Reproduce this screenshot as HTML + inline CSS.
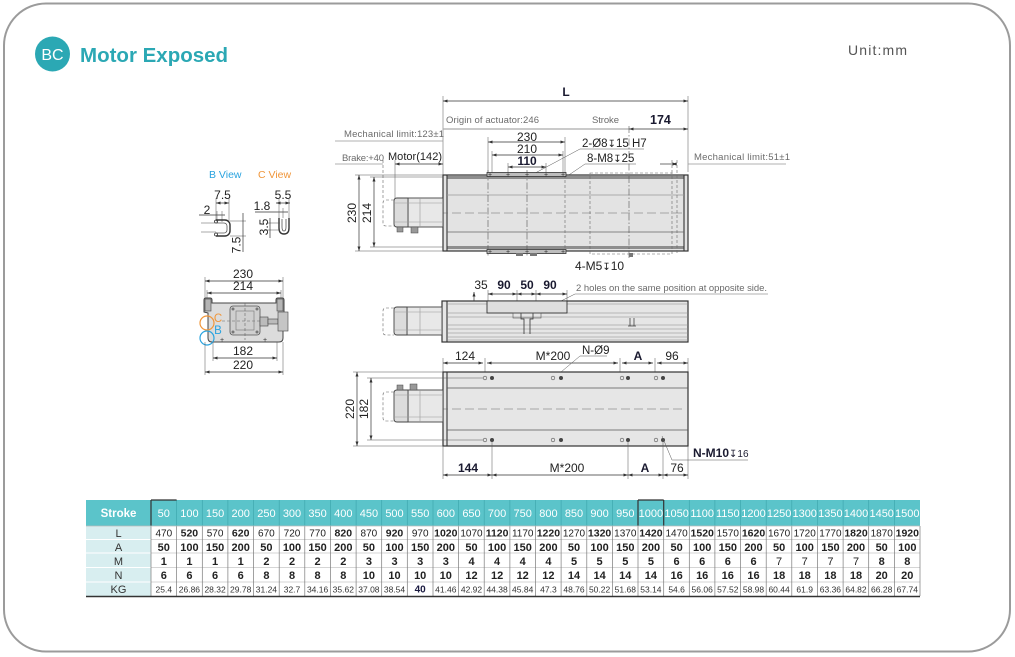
<!DOCTYPE html>
<html><head><meta charset="utf-8"><style>
html,body{margin:0;padding:0;background:#fff;width:1015px;height:657px;overflow:hidden}
svg{display:block;font-family:"Liberation Sans","DejaVu Sans",sans-serif}
.d{stroke:#333;stroke-width:0.7;fill:none}
.m{marker-start:url(#a);marker-end:url(#a)}
.e{stroke:#555;stroke-width:0.5;fill:none}
.dd{stroke:#555;stroke-width:0.6;stroke-dasharray:7 2 1.5 2;fill:none}
.ds{stroke:#666;stroke-width:0.6;stroke-dasharray:3 2;fill:none}
.t{font-size:12px;fill:#222}
.tb{font-size:12px;fill:#1a1a30;font-weight:bold}
.gl{font-size:9.5px;fill:#6b6b6b}
.c{text-anchor:middle}
.o{stroke:#333;stroke-width:1.1}
</style></head><body>
<svg width="1015" height="657" viewBox="0 0 1015 657">
<defs><marker id="a" viewBox="0 0 6 4" refX="6" refY="2" markerWidth="5" markerHeight="3" orient="auto-start-reverse" markerUnits="userSpaceOnUse"><path d="M0,0L6,2L0,4z" fill="#333"/></marker></defs>

<!-- frame -->
<rect x="4" y="3.5" width="1006" height="648" rx="42" fill="none" stroke="#9b9b9b" stroke-width="2"/>

<!-- header -->
<circle cx="52.5" cy="54" r="17.5" fill="#2ba8b4"/>
<text x="52.5" y="60" class="c" font-size="16" fill="#fff">BC</text>
<text x="80" y="62" font-size="20.5" font-weight="bold" fill="#2ba8b4">Motor Exposed</text>
<text x="848" y="55" font-size="14" fill="#555" textLength="59">Unit:mm</text>

<!-- B / C views -->
<text x="209" y="178" font-size="10.5" fill="#2aa3df">B View</text>
<text x="258" y="178" font-size="10.5" fill="#f0963a">C View</text>
<!-- B view -->
<line class="e" x1="216" y1="198" x2="216" y2="221"/>
<line class="e" x1="229" y1="198" x2="229" y2="221"/>
<line class="d m" x1="216" y1="203" x2="229" y2="203"/>
<text x="222.5" y="199" class="t c" font-size="11.5">7.5</text>
<text x="207" y="214" class="t c" font-size="11.5">2</text>
<line class="d" x1="199" y1="215" x2="225" y2="215"/>
<line class="e" x1="217" y1="211" x2="217" y2="222"/>
<line class="e" x1="222" y1="211" x2="222" y2="222"/>
<line class="e" x1="201" y1="223" x2="216" y2="223"/>
<line class="e" x1="201" y1="232" x2="216" y2="232"/>
<path d="M216,220H225A5,5 0 0 1 230,225V231A5,5 0 0 1 225,236H216" fill="none" stroke="#333" stroke-width="1.4"/>
<path d="M216,223H224A3,3 0 0 1 227,226V230A3,3 0 0 1 224,233H216" fill="none" stroke="#555" stroke-width="0.8"/>
<circle cx="216" cy="221.5" r="1.5" fill="none" stroke="#333" stroke-width="0.8"/>
<circle cx="216" cy="234.5" r="1.5" fill="none" stroke="#333" stroke-width="0.8"/>
<line class="e" x1="230" y1="221" x2="246" y2="221"/>
<line class="e" x1="230" y1="236" x2="246" y2="236"/>
<line class="d" x1="243" y1="213" x2="243" y2="252"/>
<text x="236.5" y="249" class="t c" font-size="11.5" transform="rotate(-90 236.5 245)">7.5</text>
<!-- C view -->
<text x="283" y="199" class="t c" font-size="11.5">5.5</text>
<line class="d m" x1="276" y1="203" x2="290" y2="203"/>
<text x="262" y="210" class="t c" font-size="11.5">1.8</text>
<line class="d" x1="255" y1="212" x2="288" y2="212"/>
<line class="e" x1="279" y1="199" x2="279" y2="218"/>
<line class="e" x1="283" y1="208" x2="283" y2="218"/>
<line class="e" x1="289" y1="199" x2="289" y2="218"/>
<path d="M279,218V228Q279,234 284,234Q289,234 289,228V218" fill="none" stroke="#333" stroke-width="1.4"/>
<path d="M282,219V227Q282,231 284,231Q286,231 286,227V219" fill="none" stroke="#555" stroke-width="0.8"/>
<line class="e" x1="267" y1="223" x2="280" y2="223"/>
<line class="e" x1="267" y1="230" x2="280" y2="230"/>
<line class="d" x1="270" y1="218" x2="270" y2="238"/>
<text x="264" y="231" class="t c" font-size="11" transform="rotate(-90 264 227)">3.5</text>

<!-- End view -->
<line class="e" x1="205" y1="277" x2="205" y2="300"/>
<line class="e" x1="283" y1="277" x2="283" y2="300"/>
<line class="e" x1="207" y1="290" x2="207" y2="303"/>
<line class="e" x1="281" y1="290" x2="281" y2="303"/>
<line class="d m" x1="205" y1="281" x2="283" y2="281"/>
<text x="243" y="278" class="t c">230</text>
<line class="d m" x1="207" y1="293" x2="281" y2="293"/>
<text x="243" y="290" class="t c">214</text>
<path d="M204,300Q204,298 206,298H210Q212,298 212,300V303H276V300Q276,298 278,298H282Q284,298 284,300V312L283,313V338Q283,342 279,342H212Q208,342 208,338V313L204,312Z" fill="#dcdcdc" stroke="#444" stroke-width="1"/>
<rect x="205" y="299" width="6" height="12" fill="#b5b5b5" stroke="#444" stroke-width="0.6"/>
<rect x="277" y="299" width="6" height="12" fill="#b5b5b5" stroke="#444" stroke-width="0.6"/>
<rect x="230" y="306" width="30" height="29" rx="3" fill="#cfcfcf" stroke="#555" stroke-width="0.8"/>
<rect x="236" y="311" width="18" height="19" fill="none" stroke="#777" stroke-width="0.6"/>
<circle cx="233" cy="309" r="1.5" fill="#777"/><circle cx="257" cy="309" r="1.5" fill="#777"/>
<circle cx="233" cy="332" r="1.5" fill="#777"/><circle cx="257" cy="332" r="1.5" fill="#777"/>
<line class="ds" x1="222" y1="321" x2="262" y2="321"/>
<line class="ds" x1="245" y1="303" x2="245" y2="340"/>
<rect x="260" y="317" width="8" height="9" fill="#bbb" stroke="#444" stroke-width="0.6"/>
<rect x="268" y="319" width="10" height="5" fill="#bbb" stroke="#444" stroke-width="0.6"/>
<rect x="278" y="312" width="10" height="19" fill="#c5c5c5" stroke="#444" stroke-width="0.6"/>
<text x="222" y="342" font-size="7" fill="#333" class="c">+</text>
<text x="265" y="342" font-size="7" fill="#333" class="c">+</text>
<circle cx="207" cy="323" r="7" fill="none" stroke="#f0963a" stroke-width="1.2"/>
<text x="218" y="322" class="c" font-size="11.5" fill="#f0963a">C</text>
<circle cx="207" cy="338" r="7" fill="none" stroke="#2aa3df" stroke-width="1.2"/>
<text x="218" y="334" class="c" font-size="11.5" fill="#2aa3df">B</text>
<line class="e" x1="213" y1="342" x2="213" y2="361"/>
<line class="e" x1="277" y1="342" x2="277" y2="361"/>
<line class="e" x1="205" y1="342" x2="205" y2="375"/>
<line class="e" x1="283" y1="342" x2="283" y2="375"/>
<line class="d m" x1="213" y1="358" x2="277" y2="358"/>
<text x="243" y="355" class="t c">182</text>
<line class="d m" x1="205" y1="372" x2="283" y2="372"/>
<text x="243" y="369" class="t c">220</text>

<!-- ============ TOP VIEW ============ -->
<line class="e" x1="443" y1="96" x2="443" y2="175"/>
<line class="e" x1="688" y1="96" x2="688" y2="172"/>
<line class="d m" x1="443" y1="101" x2="688" y2="101"/>
<text x="566" y="96" class="tb c">L</text>
<line x1="443" y1="129" x2="629" y2="129" stroke="#aaa" stroke-width="1.3"/>
<line class="d m" x1="629" y1="129" x2="688" y2="129"/>
<text class="gl" x="446" y="123" textLength="93">Origin of actuator:246</text>
<text class="gl" x="592" y="123" textLength="27">Stroke</text>
<text x="650" y="124" font-size="12.5" font-weight="bold" fill="#1a1a30">174</text>
<text class="gl" x="344" y="137" textLength="100">Mechanical limit:123±1</text>
<line x1="335" y1="141" x2="443" y2="141" stroke="#999" stroke-width="0.8"/>
<text class="gl" x="342" y="161" textLength="42">Brake:+40</text>
<line x1="335" y1="164" x2="383" y2="164" stroke="#999" stroke-width="0.8"/>
<text x="388" y="160" font-size="11" fill="#222" textLength="54">Motor(142)</text>
<line class="d m" x1="395" y1="164" x2="443" y2="164"/>
<line class="ds" x1="383" y1="160" x2="383" y2="198"/>
<line class="e" x1="395" y1="160" x2="395" y2="198"/>
<text class="gl" x="694" y="160" textLength="96">Mechanical limit:51±1</text>
<line x1="688" y1="164" x2="786" y2="164" stroke="#999" stroke-width="0.8"/>
<line class="d m" x1="672" y1="164" x2="677" y2="164"/>
<line class="d" x1="660" y1="164" x2="672" y2="164"/>

<!-- 230/210/110 -->
<line class="d m" x1="488" y1="142" x2="565" y2="142"/>
<text x="527" y="141" class="t c">230</text>
<line class="e" x1="488" y1="137" x2="488" y2="175"/>
<line class="e" x1="565" y1="137" x2="565" y2="175"/>
<line class="d m" x1="492" y1="155" x2="563" y2="155"/>
<text x="527" y="153" class="t c">210</text>
<line class="e" x1="492" y1="151" x2="492" y2="175"/>
<line class="e" x1="563" y1="151" x2="563" y2="175"/>
<line class="d m" x1="508" y1="167" x2="546" y2="167"/>
<text x="527" y="165" class="tb c">110</text>
<line class="e" x1="508" y1="163" x2="508" y2="175"/>
<line class="e" x1="546" y1="163" x2="546" y2="175"/>
<text x="582" y="147" font-size="11.5" fill="#222">2-Ø8<tspan font-size="10">↧</tspan>15 H7</text>
<line class="e" x1="580" y1="149" x2="644" y2="149"/>
<line class="e" x1="580" y1="149" x2="524" y2="179"/>
<text x="587" y="162" font-size="11.5" fill="#222">8-M8<tspan font-size="10">↧</tspan>25</text>
<line class="e" x1="585" y1="164" x2="636" y2="164"/>
<line class="e" x1="585" y1="164" x2="560" y2="181"/>

<!-- body -->
<rect x="443" y="175" width="245" height="76" fill="#e3e3e3" stroke="#333" stroke-width="1.2"/>
<rect x="447" y="176" width="237" height="3" fill="#8e8e8e"/>
<rect x="447" y="246" width="237" height="3" fill="#8e8e8e"/>
<line class="o" x1="447" y1="175" x2="447" y2="251"/>
<line class="o" x1="684" y1="175" x2="684" y2="251"/>
<line x1="447" y1="195" x2="684" y2="195" stroke="#999" stroke-width="0.8"/>
<line x1="447" y1="232" x2="684" y2="232" stroke="#666" stroke-width="0.8"/>
<line class="ds" x1="400" y1="213" x2="684" y2="213" style="stroke-dasharray:9 4"/>
<line class="dd" x1="488" y1="170" x2="488" y2="256"/>
<line class="dd" x1="527" y1="170" x2="527" y2="256"/>
<line class="ds" x1="565" y1="175" x2="565" y2="254"/>
<rect x="590" y="173" width="82" height="81" class="ds"/>
<line class="dd" x1="629" y1="126" x2="629" y2="258"/>
<line class="ds" x1="677" y1="160" x2="677" y2="254"/>
<line class="ds" x1="672" y1="160" x2="672" y2="173"/>
<!-- carriage -->
<rect x="487" y="172.5" width="79" height="4" fill="#bdbdbd" stroke="#333" stroke-width="0.8"/>
<rect x="487" y="249.5" width="79" height="4" fill="#bdbdbd" stroke="#333" stroke-width="0.8"/>
<g font-size="7" fill="#333" class="c">
<text x="490" y="177">+</text><text x="508" y="177">+</text><text x="527" y="177">+</text><text x="546" y="177">+</text><text x="563" y="177">+</text>
<text x="490" y="254">+</text><text x="508" y="254">+</text><text x="527" y="254">+</text><text x="546" y="254">+</text><text x="563" y="254">+</text>
</g>
<rect x="516" y="253" width="7" height="3" fill="#777"/><rect x="530" y="253" width="7" height="3" fill="#777"/>
<rect x="629" y="253" width="4" height="4" fill="#777"/>
<!-- motor -->
<rect x="408" y="198" width="35" height="29" fill="#e8e8e8" stroke="#444" stroke-width="0.9"/>
<path d="M408,198H397Q394,198 394,201V224Q394,227 397,227H408Z" fill="#dcdcdc" stroke="#444" stroke-width="0.9"/>
<line x1="394" y1="203" x2="443" y2="203" stroke="#999" stroke-width="0.6"/>
<line x1="394" y1="222" x2="443" y2="222" stroke="#999" stroke-width="0.6"/>
<line x1="420" y1="198" x2="420" y2="227" stroke="#999" stroke-width="0.6"/>
<path d="M394,200H386Q383,200 383,203V223Q383,226 386,226H394" class="ds"/>
<rect x="397" y="227" width="6" height="5" fill="#999" stroke="#444" stroke-width="0.5"/>
<rect x="411" y="227" width="7" height="6" fill="#999" stroke="#444" stroke-width="0.5"/>
<!-- vertical dims -->
<line class="e" x1="355" y1="175" x2="443" y2="175"/>
<line class="e" x1="355" y1="251" x2="443" y2="251"/>
<line class="e" x1="370" y1="177" x2="443" y2="177"/>
<line class="e" x1="370" y1="247" x2="443" y2="247"/>
<line class="d m" x1="359" y1="175" x2="359" y2="251"/>
<line class="d m" x1="374" y1="177" x2="374" y2="247"/>
<text x="352" y="217" class="t c" transform="rotate(-90 352 213)">230</text>
<text x="367" y="217" class="t c" transform="rotate(-90 367 213)">214</text>
<text x="575" y="270" font-size="12" fill="#222">4-M5<tspan font-size="10">↧</tspan>10</text>

<!-- ============ MIDDLE VIEW ============ -->
<line class="e" x1="488" y1="290" x2="488" y2="301"/>
<line class="e" x1="517" y1="290" x2="517" y2="318"/>
<line class="e" x1="536" y1="290" x2="536" y2="318"/>
<line class="e" x1="567" y1="290" x2="567" y2="301"/>
<line class="d m" x1="488" y1="294" x2="517" y2="294"/>
<line class="d m" x1="517" y1="294" x2="536" y2="294"/>
<line class="d m" x1="536" y1="294" x2="567" y2="294"/>
<line class="d m" x1="474" y1="292" x2="474" y2="318"/>
<text x="481" y="289" class="t c">35</text>
<text x="504" y="289" class="tb c">90</text>
<text x="527" y="289" class="tb c">50</text>
<text x="550" y="289" class="tb c">90</text>
<text class="gl" x="576" y="291" textLength="191">2 holes on the same position at opposite side.</text>
<line x1="575" y1="294" x2="768" y2="294" stroke="#999" stroke-width="0.8"/>
<line class="e" x1="575" y1="294" x2="531" y2="316"/>
<rect x="442" y="301" width="246" height="41" fill="#e6e6e6" stroke="#333" stroke-width="1.2"/>
<line class="o" x1="447" y1="301" x2="447" y2="342"/>
<g stroke="#888" stroke-width="0.6">
<line x1="447" y1="304" x2="688" y2="304"/><line x1="447" y1="313" x2="688" y2="313"/>
<line x1="447" y1="317" x2="688" y2="317"/><line x1="447" y1="325" x2="688" y2="325"/>
<line x1="447" y1="329" x2="688" y2="329"/><line x1="447" y1="333" x2="688" y2="333"/>
<line x1="447" y1="337" x2="688" y2="337"/><line x1="447" y1="340" x2="688" y2="340"/>
</g>
<line class="ds" x1="400" y1="321" x2="440" y2="321" style="stroke-dasharray:9 4"/>
<rect x="487" y="301" width="80" height="12" fill="#dedede" stroke="#333" stroke-width="0.9"/>
<path d="M521,313V319H524V334M533,313V319H530V334" fill="none" stroke="#333" stroke-width="0.8"/>
<rect x="513" y="313" width="28" height="5" fill="none" stroke="#555" stroke-width="0.6"/>
<path d="M630,318V326M634,318V326M628,326H636" fill="none" stroke="#444" stroke-width="0.8"/>
<rect x="407" y="307" width="35" height="28" fill="#e8e8e8" stroke="#444" stroke-width="0.9"/>
<path d="M407,307H397Q394,307 394,310V332Q394,335 397,335H407Z" fill="#dcdcdc" stroke="#444" stroke-width="0.9"/>
<line x1="394" y1="312" x2="442" y2="312" stroke="#999" stroke-width="0.6"/>
<line x1="394" y1="330" x2="442" y2="330" stroke="#999" stroke-width="0.6"/>
<line x1="420" y1="307" x2="420" y2="335" stroke="#999" stroke-width="0.6"/>
<path d="M394,308H386Q383,308 383,311V332Q383,335 386,335H394" class="ds"/>

<!-- ============ BOTTOM VIEW ============ -->
<line class="e" x1="443" y1="358" x2="443" y2="372"/>
<line class="e" x1="485" y1="358" x2="485" y2="378"/>
<line class="e" x1="620" y1="358" x2="620" y2="378"/>
<line class="e" x1="655" y1="358" x2="655" y2="378"/>
<line class="e" x1="688" y1="358" x2="688" y2="372"/>
<line class="d m" x1="443" y1="363" x2="483" y2="363"/>
<line class="d m" x1="487" y1="363" x2="618" y2="363"/>
<line class="d m" x1="622" y1="363" x2="653" y2="363"/>
<line class="d m" x1="657" y1="363" x2="688" y2="363"/>
<text x="465" y="360" class="t c">124</text>
<text x="553" y="360" class="t c">M*200</text>
<text x="638" y="360" class="tb c">A</text>
<text x="672" y="360" class="t c">96</text>
<text x="582" y="354" font-size="11.5" fill="#222">N-Ø9</text>
<line class="e" x1="580" y1="356" x2="607" y2="356"/>
<line class="e" x1="580" y1="356" x2="548" y2="383"/>
<rect x="443" y="372" width="245" height="74" fill="#e6e6e6" stroke="#333" stroke-width="1.2"/>
<line class="o" x1="447" y1="372" x2="447" y2="446"/>
<line x1="447" y1="388" x2="688" y2="388" stroke="#555" stroke-width="0.8"/>
<line x1="447" y1="430" x2="688" y2="430" stroke="#555" stroke-width="0.8"/>
<line class="ds" x1="400" y1="409" x2="684" y2="409" style="stroke-dasharray:9 4"/>
<g fill="none" stroke="#555" stroke-width="0.6">
<circle cx="485" cy="378" r="1.8"/><circle cx="553" cy="378" r="1.8"/><circle cx="622" cy="378" r="1.8"/><circle cx="656" cy="378" r="1.8"/>
<circle cx="485" cy="440" r="1.8"/><circle cx="553" cy="440" r="1.8"/><circle cx="622" cy="440" r="1.8"/><circle cx="656" cy="440" r="1.8"/>
</g>
<g fill="#444">
<circle cx="492" cy="378" r="2"/><circle cx="561" cy="378" r="2"/><circle cx="628" cy="378" r="2"/><circle cx="663" cy="378" r="2"/>
<circle cx="492" cy="440" r="2"/><circle cx="561" cy="440" r="2"/><circle cx="628" cy="440" r="2"/><circle cx="663" cy="440" r="2"/>
</g>
<rect x="408" y="390" width="35" height="32" fill="#e8e8e8" stroke="#444" stroke-width="0.9"/>
<path d="M408,390H397Q394,390 394,393V419Q394,422 397,422H408Z" fill="#dcdcdc" stroke="#444" stroke-width="0.9"/>
<line x1="394" y1="395" x2="443" y2="395" stroke="#999" stroke-width="0.6"/>
<line x1="394" y1="417" x2="443" y2="417" stroke="#999" stroke-width="0.6"/>
<line x1="420" y1="390" x2="420" y2="422" stroke="#999" stroke-width="0.6"/>
<path d="M394,392H386Q383,392 383,395V418Q383,421 386,421H394" class="ds"/>
<rect x="397" y="385" width="6" height="5" fill="#999" stroke="#444" stroke-width="0.5"/>
<rect x="410" y="384" width="7" height="6" fill="#999" stroke="#444" stroke-width="0.5"/>
<line class="e" x1="353" y1="372" x2="443" y2="372"/>
<line class="e" x1="353" y1="446" x2="443" y2="446"/>
<line class="e" x1="367" y1="378" x2="483" y2="378"/>
<line class="e" x1="367" y1="440" x2="483" y2="440"/>
<line class="d m" x1="357" y1="372" x2="357" y2="446"/>
<line class="d m" x1="371" y1="378" x2="371" y2="440"/>
<text x="350" y="413" class="t c" transform="rotate(-90 350 409)">220</text>
<text x="364" y="413" class="t c" transform="rotate(-90 364 409)">182</text>
<line class="e" x1="443" y1="446" x2="443" y2="479"/>
<line class="e" x1="492" y1="440" x2="492" y2="479"/>
<line class="e" x1="628" y1="440" x2="628" y2="479"/>
<line class="e" x1="663" y1="440" x2="663" y2="479"/>
<line class="e" x1="688" y1="446" x2="688" y2="479"/>
<line class="d m" x1="443" y1="475" x2="492" y2="475"/>
<line class="d m" x1="492" y1="475" x2="628" y2="475"/>
<line class="d m" x1="628" y1="475" x2="663" y2="475"/>
<line class="d m" x1="663" y1="475" x2="688" y2="475"/>
<text x="468" y="472" class="tb c">144</text>
<text x="567" y="472" class="t c">M*200</text>
<text x="645" y="472" class="tb c">A</text>
<text x="677" y="472" class="t c">76</text>
<text x="693" y="457" font-size="12" fill="#1a1a30" font-weight="bold">N-M10<tspan font-size="10" font-weight="normal">↧16</tspan></text>
<line class="e" x1="672" y1="460" x2="748" y2="460"/>
<line class="e" x1="672" y1="460" x2="662" y2="436"/>

<!-- ============ TABLE ============ -->
<rect x="86" y="500" width="834" height="26" fill="#5bc4ca"/>
<rect x="86" y="526" width="65" height="70" fill="#d8eef0"/>
<path d="M176.6,500V526M202.3,500V526M227.9,500V526M253.5,500V526M279.2,500V526M304.8,500V526M330.4,500V526M356.1,500V526M381.7,500V526M407.3,500V526M433,500V526M458.6,500V526M484.2,500V526M509.9,500V526M535.5,500V526M561.1,500V526M586.8,500V526M612.4,500V526M638,500V526M663.7,500V526M689.3,500V526M714.9,500V526M740.6,500V526M766.2,500V526M791.8,500V526M817.5,500V526M843.1,500V526M868.7,500V526M894.4,500V526" stroke="#3fa7ae" stroke-width="0.7"/>
<path d="M151,500V526" stroke="#333" stroke-width="1.2"/>
<path d="M151,500H176.6M638,500H663.7M638,500V526M663.7,500V526" stroke="#333" stroke-width="1.2" fill="none"/>
<path d="M151,539.5H920M151,553H920M151,567.5H920M151,582H920" stroke="#c8c8c8" stroke-width="0.8"/>
<path d="M86,539.5H151M86,553H151M86,567.5H151M86,582H151" stroke="#fff" stroke-width="1"/>
<path d="M151,526V596M176.6,526V596M202.3,526V596M227.9,526V596M253.5,526V596M279.2,526V596M304.8,526V596M330.4,526V596M356.1,526V596M381.7,526V596M407.3,526V596M433,526V596M458.6,526V596M484.2,526V596M509.9,526V596M535.5,526V596M561.1,526V596M586.8,526V596M612.4,526V596M638,526V596M663.7,526V596M689.3,526V596M714.9,526V596M740.6,526V596M766.2,526V596M791.8,526V596M817.5,526V596M843.1,526V596M868.7,526V596M894.4,526V596M920,526V596" stroke="#7a7a7a" stroke-width="0.7"/>
<line x1="86" y1="526" x2="920" y2="526" stroke="#bbb" stroke-width="0.8"/>
<line x1="86" y1="596.5" x2="920" y2="596.5" stroke="#333" stroke-width="1.5"/>

<text x="118.5" y="517" class="c" font-size="11.5" font-weight="bold" fill="#fff">Stroke</text>
<text y="517" class="c" font-size="11" fill="#fff"><tspan x="163.8">50</tspan><tspan x="189.4">100</tspan><tspan x="215.1">150</tspan><tspan x="240.7">200</tspan><tspan x="266.4">250</tspan><tspan x="292">300</tspan><tspan x="317.6">350</tspan><tspan x="343.3">400</tspan><tspan x="368.9">450</tspan><tspan x="394.5">500</tspan><tspan x="420.2">550</tspan><tspan x="445.8">600</tspan><tspan x="471.5">650</tspan><tspan x="497.1">700</tspan><tspan x="522.7">750</tspan><tspan x="548.4">800</tspan><tspan x="574">850</tspan><tspan x="599.6">900</tspan><tspan x="625.3">950</tspan><tspan x="650.9">1000</tspan><tspan x="676.6">1050</tspan><tspan x="702.2">1100</tspan><tspan x="727.8">1150</tspan><tspan x="753.5">1200</tspan><tspan x="779.1">1250</tspan><tspan x="804.7">1300</tspan><tspan x="830.4">1350</tspan><tspan x="856">1400</tspan><tspan x="881.7">1450</tspan><tspan x="907.3">1500</tspan></text>

<g class="c" font-size="11" fill="#333">
<text x="118.5" y="537">L</text><text x="118.5" y="551">A</text><text x="118.5" y="565">M</text><text x="118.5" y="579">N</text><text x="118.5" y="593">KG</text>
</g>

<text y="536.5" class="c" font-size="10" fill="#222"><tspan x="163.8">470</tspan><tspan x="189.4" font-weight="bold" font-size="10.5">520</tspan><tspan x="215.1">570</tspan><tspan x="240.7" font-weight="bold" font-size="10.5">620</tspan><tspan x="266.4">670</tspan><tspan x="292">720</tspan><tspan x="317.6">770</tspan><tspan x="343.3" font-weight="bold" font-size="10.5">820</tspan><tspan x="368.9">870</tspan><tspan x="394.5" font-weight="bold" font-size="10.5">920</tspan><tspan x="420.2">970</tspan><tspan x="445.8" font-weight="bold" font-size="10.5">1020</tspan><tspan x="471.5">1070</tspan><tspan x="497.1" font-weight="bold" font-size="10.5">1120</tspan><tspan x="522.7">1170</tspan><tspan x="548.4" font-weight="bold" font-size="10.5">1220</tspan><tspan x="574">1270</tspan><tspan x="599.6" font-weight="bold" font-size="10.5">1320</tspan><tspan x="625.3">1370</tspan><tspan x="650.9" font-weight="bold" font-size="10.5">1420</tspan><tspan x="676.6">1470</tspan><tspan x="702.2" font-weight="bold" font-size="10.5">1520</tspan><tspan x="727.8">1570</tspan><tspan x="753.5" font-weight="bold" font-size="10.5">1620</tspan><tspan x="779.1">1670</tspan><tspan x="804.7">1720</tspan><tspan x="830.4">1770</tspan><tspan x="856" font-weight="bold" font-size="10.5">1820</tspan><tspan x="881.7">1870</tspan><tspan x="907.3" font-weight="bold" font-size="10.5">1920</tspan></text>

<text y="551" class="c" font-size="11" font-weight="bold" fill="#222"><tspan x="163.8">50</tspan><tspan x="189.4">100</tspan><tspan x="215.1">150</tspan><tspan x="240.7">200</tspan><tspan x="266.4">50</tspan><tspan x="292">100</tspan><tspan x="317.6">150</tspan><tspan x="343.3">200</tspan><tspan x="368.9">50</tspan><tspan x="394.5">100</tspan><tspan x="420.2">150</tspan><tspan x="445.8">200</tspan><tspan x="471.5">50</tspan><tspan x="497.1">100</tspan><tspan x="522.7">150</tspan><tspan x="548.4">200</tspan><tspan x="574">50</tspan><tspan x="599.6">100</tspan><tspan x="625.3">150</tspan><tspan x="650.9">200</tspan><tspan x="676.6">50</tspan><tspan x="702.2">100</tspan><tspan x="727.8">150</tspan><tspan x="753.5">200</tspan><tspan x="779.1">50</tspan><tspan x="804.7">100</tspan><tspan x="830.4">150</tspan><tspan x="856">200</tspan><tspan x="881.7">50</tspan><tspan x="907.3">100</tspan></text>

<text y="565" class="c" font-size="11" font-weight="bold" fill="#222"><tspan x="163.8">1</tspan><tspan x="189.4">1</tspan><tspan x="215.1">1</tspan><tspan x="240.7">1</tspan><tspan x="266.4">2</tspan><tspan x="292">2</tspan><tspan x="317.6">2</tspan><tspan x="343.3">2</tspan><tspan x="368.9">3</tspan><tspan x="394.5">3</tspan><tspan x="420.2">3</tspan><tspan x="445.8">3</tspan><tspan x="471.5">4</tspan><tspan x="497.1">4</tspan><tspan x="522.7">4</tspan><tspan x="548.4">4</tspan><tspan x="574">5</tspan><tspan x="599.6">5</tspan><tspan x="625.3">5</tspan><tspan x="650.9">5</tspan><tspan x="676.6">6</tspan><tspan x="702.2">6</tspan><tspan x="727.8">6</tspan><tspan x="753.5">6</tspan><tspan x="779.1" font-weight="normal">7</tspan><tspan x="804.7" font-weight="normal">7</tspan><tspan x="830.4" font-weight="normal">7</tspan><tspan x="856" font-weight="normal">7</tspan><tspan x="881.7">8</tspan><tspan x="907.3">8</tspan></text>

<text y="579" class="c" font-size="11" font-weight="bold" fill="#222"><tspan x="163.8">6</tspan><tspan x="189.4">6</tspan><tspan x="215.1">6</tspan><tspan x="240.7">6</tspan><tspan x="266.4">8</tspan><tspan x="292">8</tspan><tspan x="317.6">8</tspan><tspan x="343.3">8</tspan><tspan x="368.9">10</tspan><tspan x="394.5">10</tspan><tspan x="420.2">10</tspan><tspan x="445.8">10</tspan><tspan x="471.5">12</tspan><tspan x="497.1">12</tspan><tspan x="522.7">12</tspan><tspan x="548.4">12</tspan><tspan x="574">14</tspan><tspan x="599.6">14</tspan><tspan x="625.3">14</tspan><tspan x="650.9">14</tspan><tspan x="676.6">16</tspan><tspan x="702.2">16</tspan><tspan x="727.8">16</tspan><tspan x="753.5">16</tspan><tspan x="779.1">18</tspan><tspan x="804.7">18</tspan><tspan x="830.4">18</tspan><tspan x="856">18</tspan><tspan x="881.7">20</tspan><tspan x="907.3">20</tspan></text>

<text y="592.5" class="c" font-size="8.5" fill="#333"><tspan x="163.8">25.4</tspan><tspan x="189.4">26.86</tspan><tspan x="215.1">28.32</tspan><tspan x="240.7">29.78</tspan><tspan x="266.4">31.24</tspan><tspan x="292">32.7</tspan><tspan x="317.6">34.16</tspan><tspan x="343.3">35.62</tspan><tspan x="368.9">37.08</tspan><tspan x="394.5">38.54</tspan><tspan x="420.2" font-weight="bold" font-size="10" fill="#1a1a40">40</tspan><tspan x="445.8">41.46</tspan><tspan x="471.5">42.92</tspan><tspan x="497.1">44.38</tspan><tspan x="522.7">45.84</tspan><tspan x="548.4">47.3</tspan><tspan x="574">48.76</tspan><tspan x="599.6">50.22</tspan><tspan x="625.3">51.68</tspan><tspan x="650.9">53.14</tspan><tspan x="676.6">54.6</tspan><tspan x="702.2">56.06</tspan><tspan x="727.8">57.52</tspan><tspan x="753.5">58.98</tspan><tspan x="779.1">60.44</tspan><tspan x="804.7">61.9</tspan><tspan x="830.4">63.36</tspan><tspan x="856">64.82</tspan><tspan x="881.7">66.28</tspan><tspan x="907.3">67.74</tspan></text>
</svg>
</body></html>
